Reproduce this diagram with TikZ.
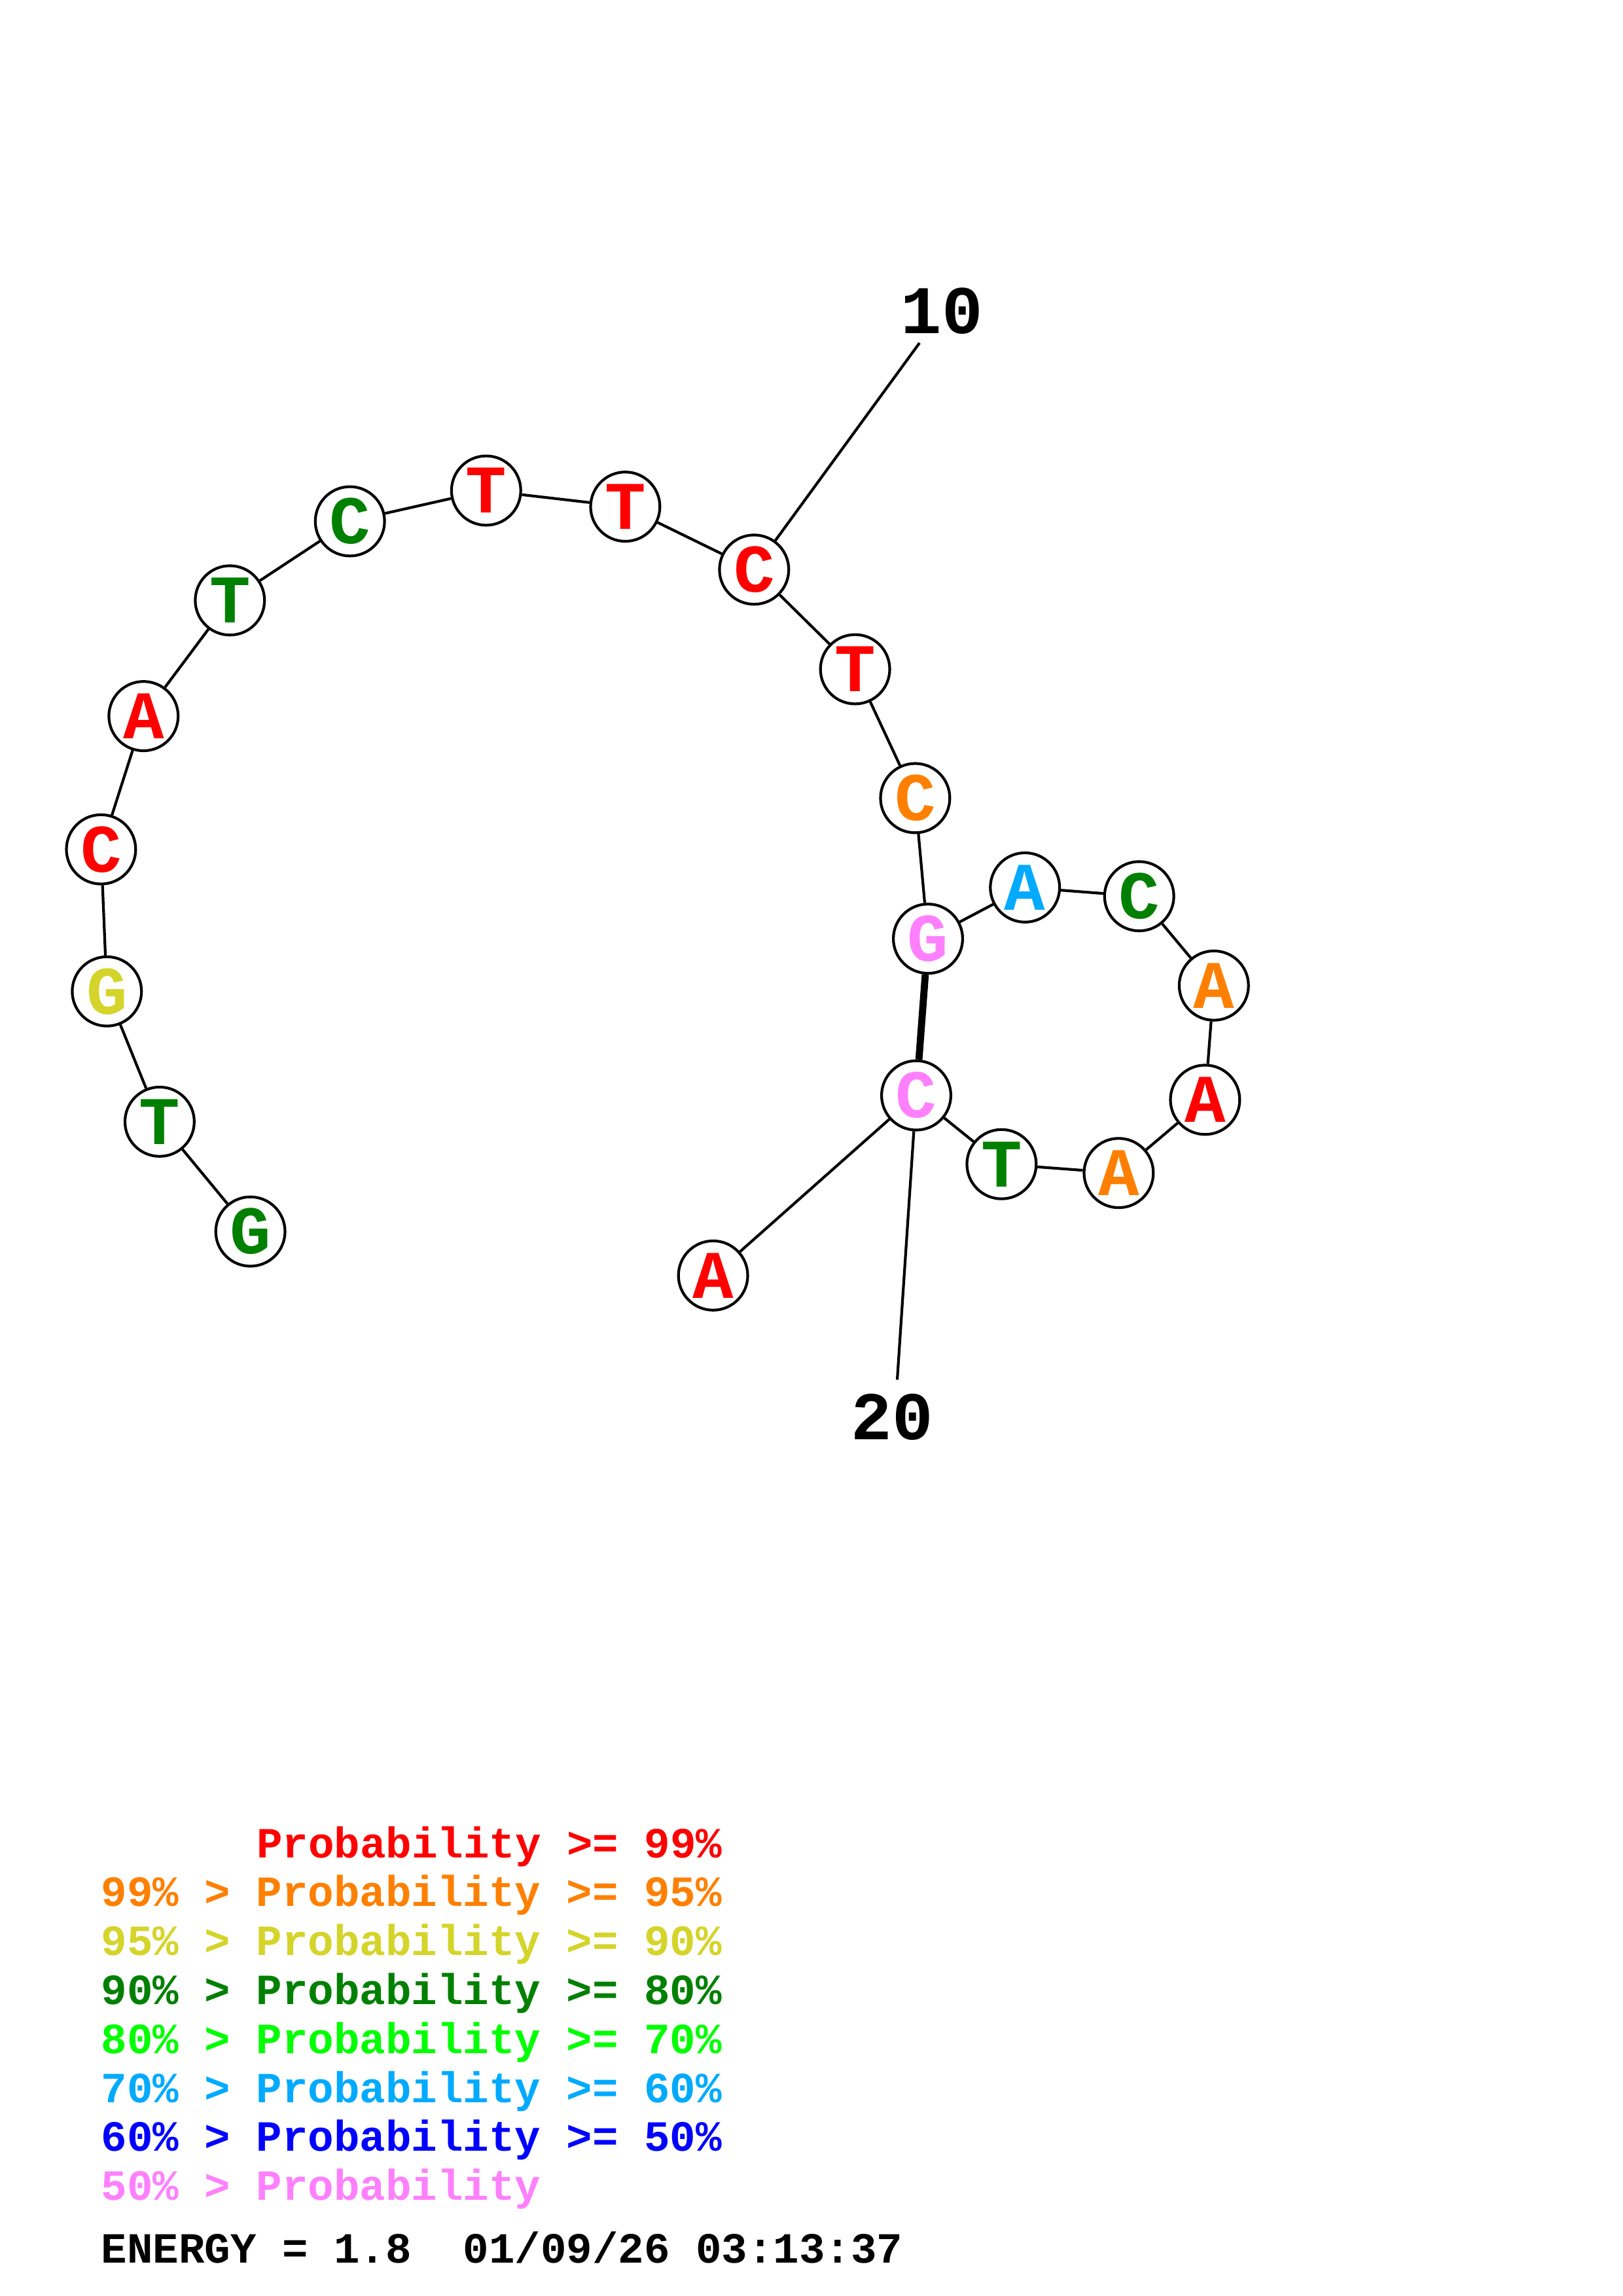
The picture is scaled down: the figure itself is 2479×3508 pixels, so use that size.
\documentclass[tikz,border=0pt]{standalone}
\usepackage{fontspec}
\setmainfont{Liberation Mono}
\definecolor{cred}{RGB}{255,0,0}
\definecolor{corange}{RGB}{255,128,0}
\definecolor{cyellow}{RGB}{212,212,42}
\definecolor{cgreen}{RGB}{0,128,0}
\definecolor{clime}{RGB}{0,255,0}
\definecolor{ccyan}{RGB}{0,170,255}
\definecolor{cblue}{RGB}{0,0,255}
\definecolor{cpink}{RGB}{255,128,255}
\begin{document}
\begin{tikzpicture}[x=0.24bp,y=-0.24bp,
  base/.style={circle,draw=black,line width=1bp,fill=white,minimum size=25.4bp,inner sep=0pt,
    font=\fontsize{25bp}{30bp}\selectfont\bfseries},
  bb/.style={line width=1bp},
  pair/.style={line width=2.6bp},
  numlbl/.style={inner sep=0pt,font=\fontsize{25bp}{30bp}\selectfont\bfseries},
  leg/.style={anchor=base west,inner sep=0pt,font=\fontsize{15.8bp}{19bp}\selectfont\bfseries}]
\useasboundingbox[fill=white] (0,0) rectangle (2479,3508);
% nodes
\node[base,text=cgreen]  (n1)  at (382.6,1881.6) {G};
\node[base,text=cgreen]  (n2)  at (243.9,1713.8) {T};
\node[base,text=cyellow] (n3)  at (163.3,1514.7) {G};
\node[base,text=cred]    (n4)  at (154.4,1297.7) {C};
\node[base,text=cred]    (n5)  at (219.3,1094.1) {A};
\node[base,text=cgreen]  (n6)  at (351.3,917.3)  {T};
\node[base,text=cgreen]  (n7)  at (534.7,796.5)  {C};
\node[base,text=cred]    (n8)  at (742.8,749.5)  {T};
\node[base,text=cred]    (n9)  at (955.4,774.1)  {T};
\node[base,text=cred]    (n10) at (1152.3,870.3) {C};
\node[base,text=cred]    (n11) at (1306.6,1022.5) {T};
\node[base,text=corange] (n12) at (1398.4,1219.4) {C};
\node[base,text=cpink]   (n13) at (1418,1434.2) {G};
\node[base,text=ccyan]   (n14) at (1566.2,1355.9) {A};
\node[base,text=cgreen]  (n15) at (1740.7,1369.3) {C};
\node[base,text=corange] (n16) at (1854.8,1505.8) {A};
\node[base,text=cred]    (n17) at (1841.4,1680.3) {A};
\node[base,text=corange] (n18) at (1709.4,1792.2) {A};
\node[base,text=cgreen]  (n19) at (1530.4,1778.7) {T};
\node[base,text=cpink]   (n20) at (1400,1673.6) {C};
\node[base,text=cred]    (n21) at (1089.6,1948.8) {A};
% labels
\node[numlbl] (l10) at (1439,475) {10};
\node[numlbl] (l20) at (1363,2165) {20};
\coordinate (e10) at (1405,524);
\coordinate (e20) at (1371,2108);
% backbone
\foreach \a/\b in {1/2,2/3,3/4,4/5,5/6,6/7,7/8,8/9,9/10,10/11,11/12,12/13,13/14,14/15,15/16,16/17,17/18,18/19,19/20,20/21}
  \draw[bb] (n\a) -- (n\b);
\draw[pair] (n13) -- (n20);
\draw[bb] (n10) -- (e10);
\draw[bb] (n20) -- (e20);
% legend
\node[leg,text=cred]    (g1) at (391.6,2838) {Probability >= 99\%};
\node[leg,text=corange] (g2) at (154,2912.8) {99\% > Probability >= 95\%};
\node[leg,text=cyellow] (g3) at (154,2987.6) {95\% > Probability >= 90\%};
\node[leg,text=cgreen]  (g4) at (154,3062.4) {90\% > Probability >= 80\%};
\node[leg,text=clime]   (g5) at (154,3137.2) {80\% > Probability >= 70\%};
\node[leg,text=ccyan]   (g6) at (154,3212)   {70\% > Probability >= 60\%};
\node[leg,text=cblue]   (g7) at (154,3286.8) {60\% > Probability >= 50\%};
\node[leg,text=cpink]   (g8) at (154,3361.6) {50\% > Probability};
\node[leg,text=black]   (g9) at (154,3457)   {ENERGY = 1.8\ \ 01/09/26 03:13:37};
\end{tikzpicture}
\end{document}
